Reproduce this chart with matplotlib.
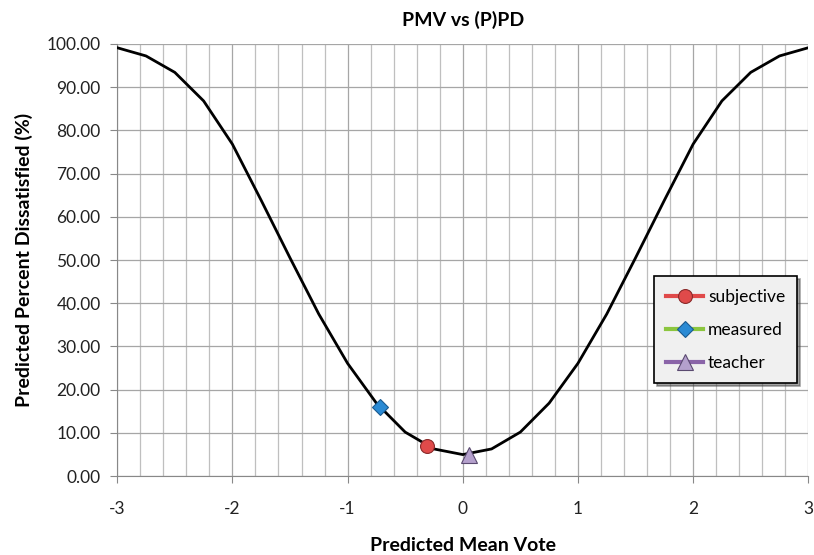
import matplotlib.pyplot as plt
from matplotlib.ticker import MultipleLocator

plt.rcParams['font.family'] = ['Lato', 'DejaVu Sans']

# curva PMV-PPD
pmv = [-3, -2.75, -2.5, -2.25, -2, -1.75, -1.5, -1.25, -1, -0.75, -0.5, -0.25,
       0, 0.25, 0.5, 0.75, 1, 1.25, 1.5, 1.75, 2, 2.25, 2.5, 2.75, 3]
ppd = [99.1, 97.2, 93.4, 86.8, 76.8, 63.8, 50.5, 37.5, 26.1, 16.9, 10.2, 6.3,
       5.0, 6.3, 10.2, 16.9, 26.1, 37.5, 50.5, 63.8, 76.8, 86.8, 93.4, 97.2, 99.1]

# puntos
subj_x, subj_y = [-0.31], [6.9]
meas_x, meas_y = [-0.72], [16.0]
teach_x, teach_y = [0.05], [4.9]

fig = plt.figure(figsize=(8.14, 5.55), dpi=100)
ax = fig.add_axes([0.144, 0.142, 0.849, 0.779])

ax.plot(pmv, ppd, color='black', lw=2, zorder=3)
ax.plot(subj_x, subj_y, color='#e04a4a', lw=3, marker='o', ms=10,
        mfc='#e04a4a', mec='#8a2a2a', mew=0.8, label='subjective', zorder=4)
ax.plot(meas_x, meas_y, color='#8cc63f', lw=3, marker='D', ms=8,
        mfc='#2a8ad4', mec='#1a5a90', mew=0.8, label='measured', zorder=4)
ax.plot(teach_x, teach_y, color='#8a64a8', lw=3, marker='^', ms=11,
        mfc='#b4a0cc', mec='#5a4a70', mew=0.8, label='teacher', zorder=4)

ax.set_xlim(-3, 3)
ax.set_ylim(0, 100)
ax.xaxis.set_major_locator(MultipleLocator(1))
ax.xaxis.set_minor_locator(MultipleLocator(0.2))
ax.yaxis.set_major_locator(MultipleLocator(10))
ax.yaxis.set_major_formatter(lambda v, p: f'{v:.2f}')
ax.set_xticklabels([str(int(v)) for v in ax.get_xticks()])

ax.grid(which='major', color='#a6a6a6', lw=0.9)
ax.grid(which='minor', axis='x', color='#bfbfbf', lw=0.9)
ax.set_axisbelow(True)

for s in ['top', 'right']:
    ax.spines[s].set_visible(False)
ax.spines['left'].set_color('#888888')
ax.spines['bottom'].set_color('#888888')
ax.tick_params(which='minor', length=0)
ax.tick_params(which='major', length=5, color='#888888', labelsize=12.5,
               labelcolor='#222222')
ax.tick_params(axis='x', pad=13)
ax.tick_params(axis='y', pad=7)

ax.set_title('PMV vs (P)PD', fontsize=14, fontweight='bold', pad=13)
ax.set_xlabel('Predicted Mean Vote', fontsize=14, fontweight='bold', labelpad=14)
ax.set_ylabel('Predicted Percent Dissatisfied (%)', fontsize=14, fontweight='bold', labelpad=10)

leg = ax.legend(loc='upper left', bbox_to_anchor=(0.777, 0.462), fontsize=12.5,
                frameon=True, fancybox=False, shadow=True, handlelength=2.1,
                labelspacing=1.0, borderpad=0.7, handletextpad=0.3,
                borderaxespad=0)
leg.get_frame().set_edgecolor('black')
leg.get_frame().set_linewidth(1.2)
leg.get_frame().set_facecolor('#f0f0f0')

fig.savefig('out.png', dpi=100)
